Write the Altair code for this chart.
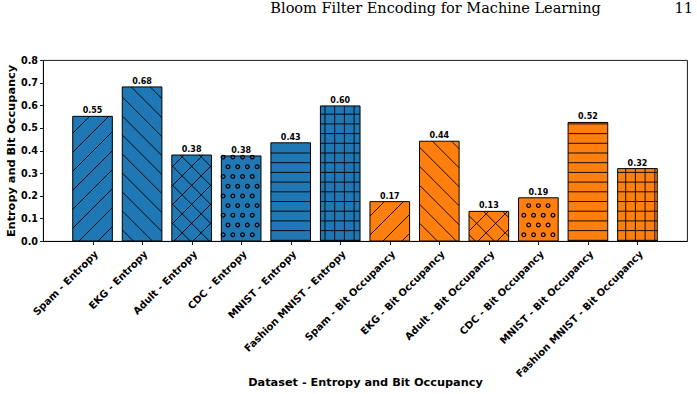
import json
import math

import altair as alt
import pandas as pd

# ---- data -----------------------------------------------------------------
datasets = ["Spam", "EKG", "Adult", "CDC", "MNIST", "Fashion MNIST"]
metrics = ["Entropy", "Bit Occupancy"]
entropy = [0.551, 0.681, 0.380, 0.376, 0.434, 0.597]
bit_occupancy = [0.174, 0.441, 0.131, 0.191, 0.524, 0.320]
hatches = ["/", "\\", "x", "o", "-", "+"]
colors = ["#1f77b4", "#ff7f0e"]
y_ticks = [0.0, 0.1, 0.2, 0.3, 0.4, 0.5, 0.6, 0.7, 0.8]

# ---- geometry of the plot area --------------------------------------------
W, H = 644, 181
X_DOMAIN = [-1, 12]
Y_DOMAIN = [0, 0.8]
BAR_WIDTH = 0.8
PX_X = W / (X_DOMAIN[1] - X_DOMAIN[0])
PX_Y = H / (Y_DOMAIN[1] - Y_DOMAIN[0])

# hatch pattern spacing (pixels) and phases
STEP = 9.7        # horizontal / vertical lines and circle grid
DIAG_STEP = 19.0  # vertical distance between diagonal lines
PHASE = {"/": -17.0, "\\": 14.3, "-": 0.7, "|": 0.7, "orow": 6.3, "ocol": 0.7}

rows = []
for m_idx, (metric, values) in enumerate(zip(metrics, [entropy, bit_occupancy])):
    for d_idx, (name, val) in enumerate(zip(datasets, values)):
        rows.append({
            "label": f"{name} - {metric}",
            "pos": m_idx * len(datasets) + d_idx,
            "value": val,
            "metric": metric,
            "hatch": hatches[d_idx],
        })
bars = pd.DataFrame(rows)
bars["left"] = bars["pos"] - BAR_WIDTH / 2
bars["right"] = bars["pos"] + BAR_WIDTH / 2
labels = bars["label"].tolist()


def px_to_x(p):
    return p / PX_X + X_DOMAIN[0]


def px_to_y(p):
    return p / PX_Y


def k_range(lo, hi, b0, step):
    return range(math.floor((lo - b0) / step) - 1, math.ceil((hi - b0) / step) + 2)


def hatch_geometry(x0, x1, h, hatch):
    """Line segments and circle centres (pixel space) filling one bar."""
    segs, dots = [], []
    if hatch in ("/", "x"):
        b0 = PHASE["/"]
        for k in k_range(-x1, h - x0, b0, DIAG_STEP):
            b = b0 + k * DIAG_STEP
            a, c = max(x0, -b), min(x1, h - b)
            if c - a > 0.3:
                segs.append((a, a + b, c, c + b))
    if hatch in ("\\", "x"):
        b0 = PHASE["\\"]
        for k in k_range(x0, x1 + h, b0, DIAG_STEP):
            b = b0 + k * DIAG_STEP
            a, c = max(x0, b - h), min(x1, b)
            if c - a > 0.3:
                segs.append((a, b - a, c, b - c))
    if hatch in ("-", "+"):
        b0 = PHASE["-"]
        for k in k_range(0, h, b0, STEP):
            yy = b0 + k * STEP
            if 0 < yy < h - 0.5:
                segs.append((x0, yy, x1, yy))
    if hatch == "+":
        b0 = PHASE["|"]
        for k in k_range(x0, x1, b0, STEP):
            xx = b0 + k * STEP
            if x0 + 0.5 < xx < x1 - 0.5:
                segs.append((xx, 0, xx, h))
    if hatch == "o":
        r0 = PHASE["orow"]
        for k in k_range(0, h, r0, STEP):
            yy = r0 + k * STEP
            if not (1.0 < yy < h - 1.0):
                continue
            c0 = PHASE["ocol"] + (0 if k % 2 else STEP / 2)
            for j in k_range(x0, x1, c0, STEP):
                xx = c0 + j * STEP
                if x0 + 1.0 < xx < x1 - 1.0:
                    dots.append((xx, yy))
    return segs, dots


seg_rows, dot_rows = [], []
for _, r in bars.iterrows():
    x0 = (r["left"] - X_DOMAIN[0]) * PX_X
    x1 = (r["right"] - X_DOMAIN[0]) * PX_X
    h = r["value"] * PX_Y
    segs, dots = hatch_geometry(x0, x1, h, r["hatch"])
    for a, b, c, d in segs:
        seg_rows.append({"hx": px_to_x(a), "hy": px_to_y(b), "hx2": px_to_x(c), "hy2": px_to_y(d)})
    for a, b in dots:
        dot_rows.append({"cx": px_to_x(a), "cy": px_to_y(b)})
hatch_lines = pd.DataFrame(seg_rows)
hatch_dots = pd.DataFrame(dot_rows)

# ---- encodings --------------------------------------------------------------
x_scale = alt.Scale(domain=X_DOMAIN, nice=False, zero=False)
y_scale = alt.Scale(domain=Y_DOMAIN, nice=False, zero=True)

label_expr = json.dumps(labels) + "[datum.value]"

x_axis = alt.Axis(
    title="Dataset - Entropy and Bit Occupancy",
    values=list(range(len(labels))),
    labelExpr=label_expr,
    labelAngle=-45,
    labelAlign="right",
    labelBaseline="top",
    labelOverlap=False,
    labelFlush=False,
    labelLimit=400,
    labelPadding=4,
    labelFontSize=10,
    titleBaseline="alphabetic",
    titleY=144,
    grid=False,
)
y_axis = alt.Axis(
    title="Entropy and Bit Occupancy",
    values=y_ticks,
    format=".1f",
    labelPadding=2,
    labelFontSize=9.6,
    titlePadding=4,
    grid=False,
)


def xq(field):
    return alt.X(field, type="quantitative", scale=x_scale, axis=x_axis)


def yq(field):
    return alt.Y(field, type="quantitative", scale=y_scale, axis=y_axis)


base = alt.Chart(bars)

fill = base.mark_rect(stroke=None).encode(
    x=xq("left"),
    x2="right:Q",
    y=yq("value"),
    y2=alt.datum(0),
    color=alt.Color("metric:N", scale=alt.Scale(domain=metrics, range=colors), legend=None),
)

lines = alt.Chart(hatch_lines).mark_rule(color="black", strokeWidth=0.9).encode(
    x=xq("hx"),
    x2="hx2:Q",
    y=yq("hy"),
    y2="hy2:Q",
)

dots = alt.Chart(hatch_dots).mark_point(
    shape="circle", filled=False, color="black", size=14, strokeWidth=1.2, opacity=1
).encode(
    x=xq("cx"),
    y=yq("cy"),
)

outline = base.mark_rect(fillOpacity=0, stroke="black", strokeWidth=1).encode(
    x=xq("left"),
    x2="right:Q",
    y=yq("value"),
    y2=alt.datum(0),
)

values_text = base.mark_text(
    baseline="alphabetic", dy=-3, fontSize=8, fontWeight="bold", color="black"
).encode(
    x=xq("pos"),
    y=yq("value"),
    text=alt.Text("value:Q", format=".2f"),
)

header = "Bloom Filter Encoding for Machine Learning" + "\u00a0" * 16 + "11"

chart = (
    alt.layer(fill, lines, dots, outline, values_text)
    .properties(
        width=W,
        height=H,
        autosize=alt.AutoSizeParams(type="none"),
        padding={"left": 43, "top": 60, "right": 10, "bottom": 153},
        title=alt.TitleParams(
            text=header,
            anchor="end",
            frame="group",
            font="DejaVu Serif",
            fontSize=14.5,
            fontWeight="normal",
            color="black",
            baseline="alphabetic",
            offset=28,
            dx=6,
        ),
    )
    .configure_view(stroke="black", strokeWidth=0.9)
    .configure_axis(
        labelFont="DejaVu Sans",
        labelFontWeight="bold",
        labelColor="black",
        titleFont="DejaVu Sans",
        titleFontWeight="bold",
        titleFontSize=11.3,
        titleColor="black",
        tickColor="black",
        tickSize=3.5,
        tickWidth=0.9,
        domainColor="black",
        domainWidth=0.9,
    )
    .configure_text(font="DejaVu Sans")
)

chart.save("out.html", embed_options={"renderer": "svg", "actions": False})
